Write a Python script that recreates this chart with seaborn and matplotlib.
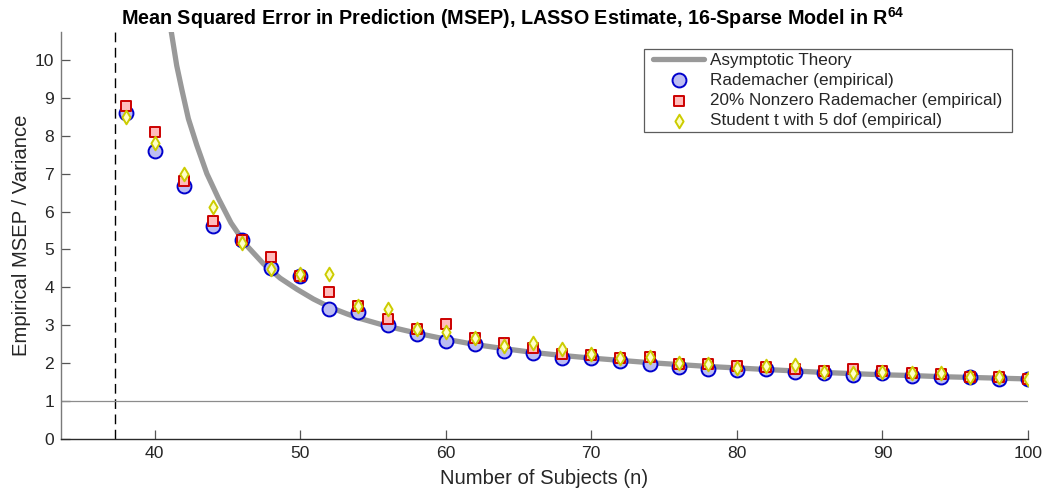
import matplotlib
matplotlib.use("Agg")
import matplotlib.pyplot as plt
import seaborn as sns

# ---------------- data ----------------
n_subjects = [38, 40, 42, 44, 46, 48, 50, 52, 54, 56, 58, 60, 62, 64, 66, 68,
              70, 72, 74, 76, 78, 80, 82, 84, 86, 88, 90, 92, 94, 96, 98, 100]
rademacher = [8.59, 7.60, 6.67, 5.63, 5.26, 4.52, 4.30, 3.42, 3.35, 3.00, 2.77,
              2.59, 2.50, 2.32, 2.27, 2.12, 2.12, 2.06, 1.97, 1.90, 1.85, 1.81,
              1.83, 1.77, 1.74, 1.68, 1.73, 1.66, 1.64, 1.64, 1.59, 1.57]
sparse_rademacher = [8.78, 8.09, 6.80, 5.76, 5.25, 4.79, 4.31, 3.88, 3.51, 3.15,
                     2.91, 3.03, 2.65, 2.52, 2.39, 2.24, 2.22, 2.13, 2.15, 1.97,
                     1.97, 1.92, 1.90, 1.83, 1.80, 1.83, 1.80, 1.73, 1.71, 1.64,
                     1.64, 1.59]
student_t = [8.49, 7.82, 6.99, 6.13, 5.16, 4.47, 4.34, 4.34, 3.51, 3.42, 2.91,
             2.83, 2.65, 2.46, 2.52, 2.37, 2.24, 2.13, 2.15, 2.01, 1.97, 1.86,
             1.92, 1.95, 1.77, 1.74, 1.77, 1.73, 1.73, 1.63, 1.63, 1.58]

theory_n = [41.05, 41.16, 41.52, 41.87, 42.32, 42.9, 43.59, 44.38, 45.25, 46.28,
            47.48, 48.63, 49.77, 50.91, 52.06, 53.2, 54, 56, 58, 60, 62, 64, 66,
            68, 70, 72, 74, 76, 78, 80, 82, 84, 86, 88, 90, 92, 94, 96, 98, 100]
theory_v = [11.0, 10.71, 9.85, 9.22, 8.45, 7.75, 7.0, 6.35, 5.70, 5.12,
            4.62, 4.24, 3.95, 3.69, 3.47, 3.30, 3.19, 2.97, 2.79, 2.63, 2.49,
            2.38, 2.28, 2.20, 2.13, 2.07, 2.01, 1.96, 1.91, 1.87, 1.83, 1.79,
            1.75, 1.72, 1.69, 1.67, 1.64, 1.62, 1.60, 1.58]

phase_transition_n = 37.3
reference_level = 1.0
x_ticks = [40, 50, 60, 70, 80, 90, 100]
y_ticks = [0, 1, 2, 3, 4, 5, 6, 7, 8, 9, 10]

series_labels = ["Asymptotic Theory", "Rademacher (empirical)",
                 "20% Nonzero Rademacher (empirical)",
                 "Student t with 5 dof (empirical)"]

# ---------------- style ----------------
sns.set_theme(style="white")
plt.rcParams['font.family'] = ['Liberation Sans', 'DejaVu Sans']
plt.rcParams['mathtext.fontset'] = 'custom'
plt.rcParams['mathtext.rm'] = 'Liberation Sans'
plt.rcParams['mathtext.bf'] = 'Liberation Sans:bold'

fig = plt.figure(figsize=(10.45, 4.93), dpi=100)
ax = fig.add_axes([0.0584, 0.110, 0.9253, 0.825])

ax.axvline(phase_transition_n, color='black', lw=1.0, dashes=(7, 4), zorder=1)
ax.axhline(reference_level, color='#8c8c8c', lw=0.9, zorder=1)

sns.lineplot(x=theory_n, y=theory_v, ax=ax, color='#999999', lw=3.8,
             sort=False, estimator=None, label=series_labels[0], zorder=2)
sns.scatterplot(x=n_subjects, y=rademacher, ax=ax, marker='o', s=100,
                facecolor='#bcbcf2', edgecolor='#0000cc', linewidth=1.4,
                label=series_labels[1], zorder=3)
sns.scatterplot(x=n_subjects, y=sparse_rademacher, ax=ax, marker='s', s=50,
                facecolor='#ffbcbc', edgecolor='#cc0000', linewidth=1.4,
                label=series_labels[2], zorder=4)
sns.scatterplot(x=n_subjects, y=student_t, ax=ax, marker='d', s=48,
                facecolor='#ffffc8', edgecolor='#cccc00', linewidth=1.4,
                label=series_labels[3], zorder=5)

ax.set_xlim(33.57, 100)
ax.set_ylim(0, 10.74)
ax.set_xticks(x_ticks)
ax.set_yticks(y_ticks)

for side in ['top', 'right']:
    ax.spines[side].set_visible(False)
ax.spines['left'].set_color('#7a7a7a')
ax.spines['bottom'].set_color('#2a2a2a')
ax.spines['left'].set_linewidth(1.0)
ax.spines['bottom'].set_linewidth(1.0)
ax.tick_params(axis='both', direction='in', length=6.5, width=0.9,
               colors='#555555', labelcolor='#262626', labelsize=12.6, pad=5,
               left=True, bottom=True)

ax.set_xlabel("Number of Subjects (n)", fontsize=14.6, color='#262626',
              labelpad=6)
ax.set_ylabel("Empirical MSEP / Variance", fontsize=14.6, color='#262626',
              labelpad=3)
ax.set_title(r"Mean Squared Error in Prediction (MSEP), LASSO Estimate, "
             r"16-Sparse Model in $\mathbf{R^{64}}$",
             fontsize=14.2, fontweight='bold', color='black', pad=5, x=0.467)

leg = ax.legend(loc='upper right', bbox_to_anchor=(0.9772, 0.9575),
                borderaxespad=0, frameon=True, fancybox=False,
                fontsize=12.3, handlelength=3.0, labelspacing=0.3,
                borderpad=0.2, handletextpad=0.35)
frame = leg.get_frame()
frame.set_boxstyle('square', pad=0.35)
frame.set_mutation_aspect(0.01)
frame.set_edgecolor('#333333')
frame.set_linewidth(0.9)
for t in leg.get_texts():
    t.set_color('#262626')

fig.savefig("out.png", dpi=100)
